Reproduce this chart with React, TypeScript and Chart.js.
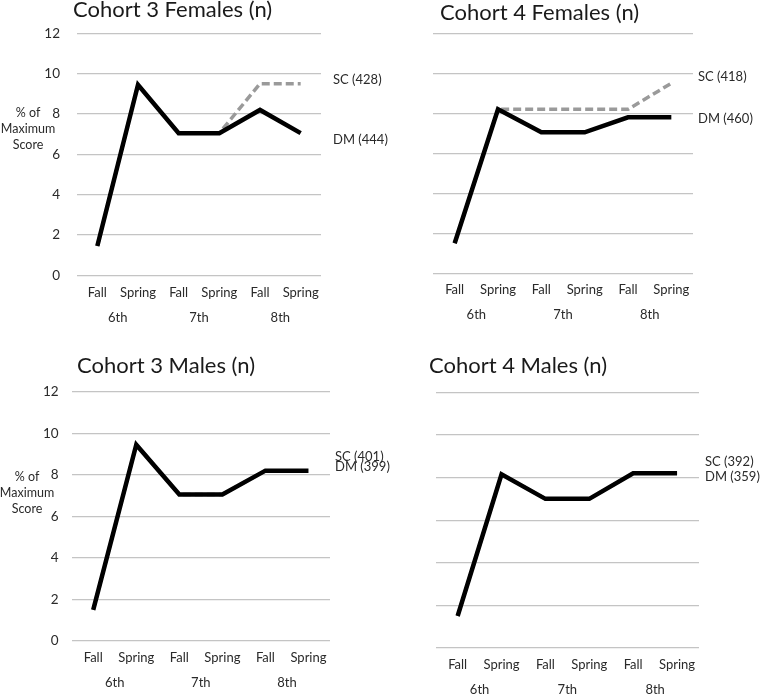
import React, { useEffect, useRef } from "react";
import { Chart, registerables } from "chart.js";

Chart.register(...registerables);

const categories = ["Fall", "Spring", "Fall", "Spring", "Fall", "Spring"];
const grades = ["6th", "7th", "8th"];
const yTicks = [0, 2, 4, 6, 8, 10, 12];

const c3FemDM = [1.45, 9.45, 7.05, 7.05, 8.2, 7.05];
const c3FemSC = [1.45, 9.45, 7.05, 7.05, 9.5, 9.5];
const c4FemDM = [1.5, 8.2, 7.05, 7.05, 7.8, 7.8];
const c4FemSC = [1.5, 8.2, 8.2, 8.2, 8.2, 9.5];
const c3MaleDM = [1.5, 9.45, 7.05, 7.05, 8.2, 8.2];
const c3MaleSC = [1.5, 9.45, 7.05, 7.05, 8.2, 8.2];
const c4MaleDM = [1.5, 8.15, 7.0, 7.0, 8.2, 8.2];
const c4MaleSC = [1.5, 8.15, 7.0, 7.0, 8.2, 8.2];

const FONT = "Lato, 'Open Sans', sans-serif";
const TEXT = "#2a2a2a";

type Panel = {
  title: string;
  dm: number[];
  sc: number[];
  scLabel: string;
  dmLabel: string;
  showY: boolean;
  box: { x: number; y: number; w: number; h: number };
  area: { l: number; r: number; t: number; b: number };
  titlePos: { x: number; y: number };
  scPos: { x: number; y: number };
  dmPos: { x: number; y: number };
  tickCenter: number;
  groupCenter: number;
  yTitle?: { x: number; y: number };
  yPad: number;
};

const panels: Panel[] = [
  {
    title: "Cohort 3 Females (n)",
    dm: c3FemDM,
    sc: c3FemSC,
    scLabel: "SC (428)",
    dmLabel: "DM (444)",
    showY: true,
    box: { x: 0, y: 0, w: 400, h: 340 },
    area: { l: 77, r: 321, t: 33.3, b: 275.3 },
    titlePos: { x: 73, y: 16.7 },
    scPos: { x: 333, y: 80 },
    dmPos: { x: 333, y: 140 },
    tickCenter: 293,
    groupCenter: 318,
    yTitle: { x: 28, y: 113 },
    yPad: 17,
  },
  {
    title: "Cohort 4 Females (n)",
    dm: c4FemDM,
    sc: c4FemSC,
    scLabel: "SC (418)",
    dmLabel: "DM (460)",
    showY: false,
    box: { x: 380, y: 0, w: 380, h: 340 },
    area: { l: 433, r: 693, t: 33.3, b: 273.3 },
    titlePos: { x: 440, y: 20 },
    scPos: { x: 698, y: 77 },
    dmPos: { x: 698, y: 119 },
    tickCenter: 290,
    groupCenter: 315,
    yPad: 10,
  },
  {
    title: "Cohort 3 Males (n)",
    dm: c3MaleDM,
    sc: c3MaleSC,
    scLabel: "SC (401)",
    dmLabel: "DM (399)",
    showY: true,
    box: { x: 0, y: 340, w: 400, h: 355 },
    area: { l: 71.7, r: 330, t: 391.7, b: 641 },
    titlePos: { x: 77, y: 373 },
    scPos: { x: 335, y: 456.5 },
    dmPos: { x: 335, y: 466.5 },
    tickCenter: 658,
    groupCenter: 683,
    yTitle: { x: 27, y: 476.7 },
    yPad: 13,
  },
  {
    title: "Cohort 4 Males (n)",
    dm: c4MaleDM,
    sc: c4MaleSC,
    scLabel: "SC (392)",
    dmLabel: "DM (359)",
    showY: false,
    box: { x: 380, y: 340, w: 380, h: 355 },
    area: { l: 435.7, r: 699, t: 392.3, b: 648 },
    titlePos: { x: 429, y: 373 },
    scPos: { x: 705, y: 461.5 },
    dmPos: { x: 705, y: 476.5 },
    tickCenter: 665,
    groupCenter: 690,
    yPad: 10,
  },
];

function PanelChart({ p }: { p: Panel }) {
  const ref = useRef<HTMLCanvasElement | null>(null);
  useEffect(() => {
    if (!ref.current) return;
    const ox = p.box.x;
    const oy = p.box.y;
    const tickFont = 13;
    const lineH = tickFont * 1.2;
    const xPad = p.tickCenter - p.area.b - lineH / 2;
    const textPlugin = {
      id: "panelText",
      afterDraw(chart: any) {
        const ctx = chart.ctx;
        const xs = chart.scales.x;
        ctx.save();
        ctx.fillStyle = "#1a1a1a";
        ctx.textAlign = "left";
        ctx.textBaseline = "alphabetic";
        ctx.font = `22px ${FONT}`;
        ctx.fillText(p.title, p.titlePos.x - ox, p.titlePos.y - oy);

        ctx.fillStyle = TEXT;
        ctx.font = `13px ${FONT}`;
        ctx.textAlign = "center";
        ctx.textBaseline = "middle";
        grades.forEach((g, i) => {
          const cx = (xs.getPixelForValue(i * 2) + xs.getPixelForValue(i * 2 + 1)) / 2;
          ctx.fillText(g, cx, p.groupCenter - oy);
        });

        ctx.textAlign = "left";
        ctx.font = `13px ${FONT}`;
        ctx.fillText(p.scLabel, p.scPos.x - ox, p.scPos.y - oy);
        ctx.fillText(p.dmLabel, p.dmPos.x - ox, p.dmPos.y - oy);

        if (p.yTitle) {
          ctx.textAlign = "center";
          ctx.font = `12.5px ${FONT}`;
          ["% of", "Maximum", "Score"].forEach((t, i) => {
            ctx.fillText(t, p.yTitle!.x - ox, p.yTitle!.y - oy + i * 16);
          });
        }
        ctx.restore();
      },
    };
    const chart = new Chart(ref.current, {
      type: "line",
      data: {
        labels: categories,
        datasets: [
          {
            label: "DM",
            data: p.dm,
            borderColor: "#000000",
            borderWidth: 4.5,
            pointRadius: 0,
            tension: 0,
            borderJoinStyle: "miter",
            fill: false,
          },
          {
            label: "SC",
            data: p.sc,
            borderColor: "#9a9a9a",
            borderWidth: 3.5,
            borderDash: [8, 4],
            pointRadius: 0,
            tension: 0,
            fill: false,
          },
        ],
      },
      options: {
        animation: false,
        responsive: false,
        maintainAspectRatio: false,
        devicePixelRatio: 1,
        layout: {
          padding: {
            left: 0,
            top: p.area.t - oy,
            right: ox + p.box.w - p.area.r,
            bottom: 0,
          },
        },
        plugins: {
          legend: { display: false },
          title: { display: false },
          tooltip: { enabled: false },
        },
        scales: {
          x: {
            type: "category",
            offset: true,
            grid: { display: false, drawTicks: false },
            border: { display: false },
            ticks: {
              color: TEXT,
              font: { family: FONT, size: tickFont },
              padding: xPad,
              maxRotation: 0,
              autoSkip: false,
            },
            afterFit(scale: any) {
              scale.height = oy + p.box.h - p.area.b;
            },
          },
          y: {
            min: 0,
            max: 12,
            afterBuildTicks(scale: any) {
              scale.ticks = yTicks.map((v) => ({ value: v }));
            },
            grid: { color: "#c4c4c4", lineWidth: 1.3, drawTicks: false },
            border: { display: false },
            ticks: {
              display: p.showY,
              color: TEXT,
              font: { family: FONT, size: 13.5 },
              padding: p.yPad,
            },
            afterFit(scale: any) {
              scale.width = p.area.l - ox;
            },
          },
        },
      },
      plugins: [textPlugin],
    } as any);
    return () => chart.destroy();
  }, [p]);
  return (
    <canvas
      ref={ref}
      width={p.box.w}
      height={p.box.h}
      style={{
        position: "absolute",
        left: p.box.x,
        top: p.box.y,
        width: p.box.w,
        height: p.box.h,
      }}
    />
  );
}

export default function App() {
  return (
    <div
      style={{
        position: "absolute",
        left: 0,
        top: 0,
        width: 760,
        height: 695,
        background: "#ffffff",
        overflow: "hidden",
      }}
    >
      {panels.map((p, i) => (
        <PanelChart key={i} p={p} />
      ))}
    </div>
  );
}
